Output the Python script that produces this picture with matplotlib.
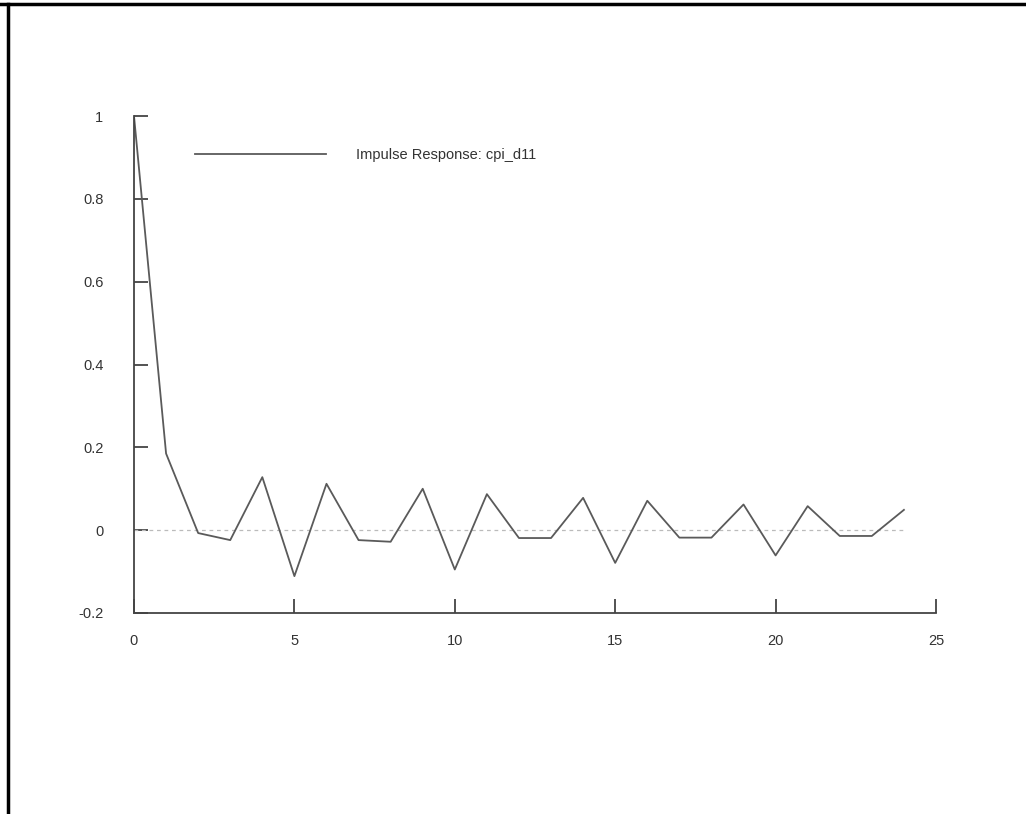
import matplotlib
matplotlib.use("Agg")
import matplotlib.pyplot as plt
from matplotlib.lines import Line2D

periods = list(range(25))
response = [1.0, 0.185, -0.007, -0.024, 0.128, -0.111, 0.112, -0.024, -0.028, 0.100,
            -0.095, 0.087, -0.019, -0.019, 0.078, -0.079, 0.071, -0.018, -0.018, 0.062,
            -0.061, 0.058, -0.014, -0.014, 0.049]
xticks = [0, 5, 10, 15, 20, 25]
yticks = [-0.2, 0, 0.2, 0.4, 0.6, 0.8, 1.0]
ytick_labels = ["-0.2", "0", "0.2", "0.4", "0.6", "0.8", "1"]
series_label = "Impulse Response: cpi_d11"

W, H = 1026, 814
fig = plt.figure(figsize=(W / 100, H / 100), dpi=100)
plt.rcParams['font.family'] = ['Liberation Sans', 'DejaVu Sans']

ax = fig.add_axes([134 / W, 1 - 613 / H, (936 - 134) / W, (613 - 116) / H])
ax.plot([0, 24], [0, 0], color="#bbbbbb", lw=0.9, ls=(0, (3, 3)))
line, = ax.plot(periods, response, color="#5a5a5a", lw=1.3, label=series_label)
ax.set_xlim(0, 25)
ax.set_ylim(-0.2, 1.0)
ax.set_xticks(xticks)
ax.set_xticklabels([str(t) for t in xticks])
ax.set_yticks(yticks)
ax.set_yticklabels(ytick_labels)
for s in ("top", "right"):
    ax.spines[s].set_visible(False)
for s in ("left", "bottom"):
    ax.spines[s].set_color("#444444")
    ax.spines[s].set_linewidth(1.3)
ax.tick_params(axis="both", direction="in", length=10, width=1.3, color="#444444",
               labelcolor="#333333", labelsize=10.5)
ax.tick_params(axis="x", pad=15)
ax.tick_params(axis="y", pad=22)

# legend drawn as in the original (line sample + text)
leg = ax.legend(handles=[line], loc="upper left", bbox_to_anchor=(0.06, 0.962),
                frameon=False, handlelength=9.0, handletextpad=2.0, fontsize=10.5,
                labelcolor="#333333")

# outer frame (top and left)
fig.add_artist(Line2D([0, 1], [1 - 4 / H, 1 - 4 / H], transform=fig.transFigure,
                      color="black", lw=2.5))
fig.add_artist(Line2D([8 / W, 8 / W], [0, 1 - 4 / H], transform=fig.transFigure,
                      color="black", lw=2.5))

fig.savefig("out.png", dpi=100)
